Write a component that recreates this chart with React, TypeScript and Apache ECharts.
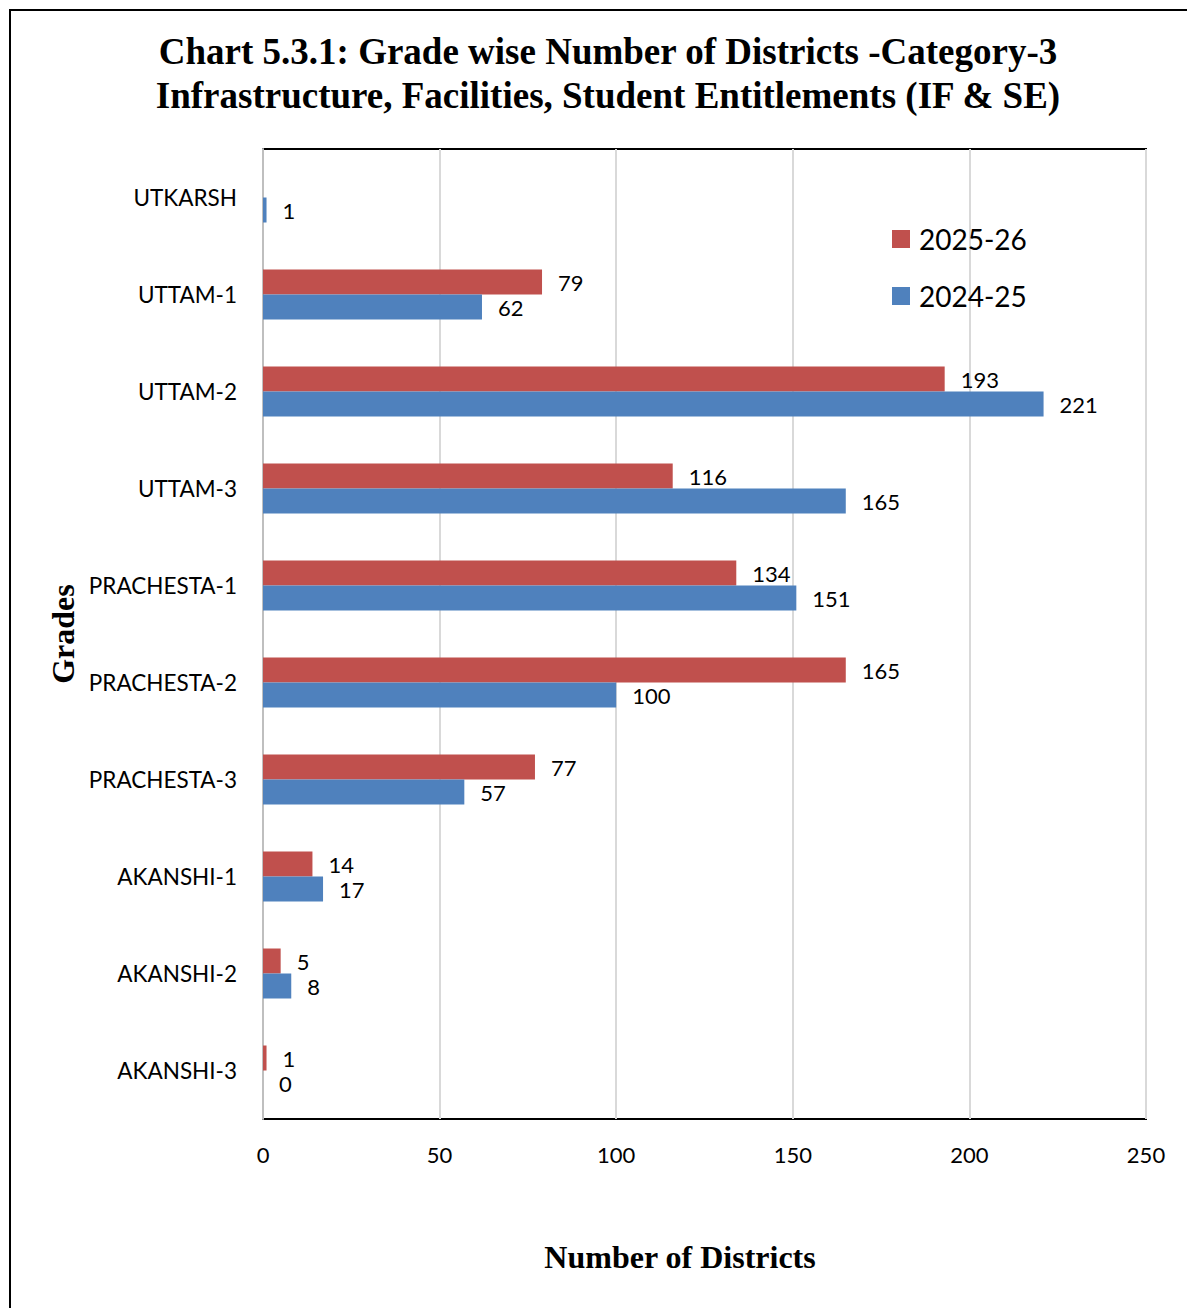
import React, { useEffect, useRef } from "react";
import * as echarts from "echarts";

const categories = [
  "UTKARSH",
  "UTTAM-1",
  "UTTAM-2",
  "UTTAM-3",
  "PRACHESTA-1",
  "PRACHESTA-2",
  "PRACHESTA-3",
  "AKANSHI-1",
  "AKANSHI-2",
  "AKANSHI-3",
];
const values2025: (number | null)[] = [null, 79, 193, 116, 134, 165, 77, 14, 5, 1];
const values2024: (number | null)[] = [1, 62, 221, 165, 151, 100, 57, 17, 8, 0];
const seriesNames = ["2025-26", "2024-25"];
const xTicks = { min: 0, max: 250, interval: 50 };

const labelFont = "Lato, 'Open Sans', sans-serif";
const serif = "'Liberation Serif', 'DejaVu Serif', serif";

export default function App() {
  const ref = useRef<HTMLDivElement>(null);
  useEffect(() => {
    document.body.style.margin = "0";
    const chart = echarts.init(ref.current!, null, { renderer: "svg" });
    chart.setOption({
      animation: false,
      backgroundColor: "#ffffff",
      title: {
        text: "Chart 5.3.1: Grade wise Number of Districts -Category-3\nInfrastructure, Facilities, Student Entitlements (IF & SE)",
        left: 603,
        textAlign: "center",
        top: 24,
        textStyle: {
          fontFamily: serif,
          fontWeight: "bold",
          fontSize: 37,
          lineHeight: 44,
          color: "#000",
        },
      },
      legend: {
        data: seriesNames,
        orient: "vertical",
        left: 887,
        top: 220,
        itemWidth: 18,
        itemHeight: 18,
        itemGap: 29,
        icon: "rect",
        textStyle: {
          fontFamily: labelFont,
          fontSize: 28,
          color: "#000",
          padding: [0, 0, 0, 4],
        },
      },
      grid: {
        left: 263,
        top: 149,
        width: 883,
        height: 970,
        show: true,
        borderColor: "#000",
        borderWidth: 2,
        backgroundColor: "transparent",
      },
      xAxis: {
        type: "value",
        min: xTicks.min,
        max: xTicks.max,
        interval: xTicks.interval,
        axisLine: { show: false },
        axisTick: { show: false },
        splitLine: { show: true, lineStyle: { color: "#d9d9d9", width: 2 } },
        axisLabel: {
          fontFamily: labelFont,
          fontSize: 22,
          color: "#000",
          margin: 24,
        },
      },
      yAxis: {
        type: "category",
        data: categories,
        inverse: true,
        axisLine: { show: true, lineStyle: { color: "#bfbfbf", width: 2 } },
        axisTick: { show: false },
        axisLabel: {
          fontFamily: labelFont,
          fontSize: 22.5,
          color: "#000",
          margin: 26,
        },
      },
      series: [
        {
          name: seriesNames[0],
          type: "bar",
          data: values2025,
          barWidth: 25,
          barGap: "0%",
          itemStyle: { color: "#c0504d" },
          label: {
            show: true,
            position: "right",
            distance: 16,
            fontFamily: labelFont,
            fontSize: 22,
            color: "#000",
          },
        },
        {
          name: seriesNames[1],
          type: "bar",
          data: values2024,
          barWidth: 25,
          barGap: "0%",
          itemStyle: { color: "#4f81bd" },
          label: {
            show: true,
            position: "right",
            distance: 16,
            fontFamily: labelFont,
            fontSize: 22,
            color: "#000",
          },
        },
      ],
      graphic: [
        {
          type: "rect",
          shape: { x: 10, y: 10, width: 1200, height: 1320 },
          style: { fill: "none", stroke: "#000", lineWidth: 2 },
          silent: true,
        },
        {
          type: "text",
          x: 63,
          y: 634,
          rotation: Math.PI / 2,
          style: {
            text: "Grades",
            fontFamily: serif,
            fontWeight: "bold",
            fontSize: 32,
            fill: "#000",
            textAlign: "center",
            textVerticalAlign: "middle",
          },
        },
        {
          type: "text",
          x: 680,
          y: 1257,
          style: {
            text: "Number of Districts",
            fontFamily: serif,
            fontWeight: "bold",
            fontSize: 32,
            fill: "#000",
            textAlign: "center",
            textVerticalAlign: "middle",
          },
        },
      ],
    });
    return () => chart.dispose();
  }, []);
  return (
    <div
      ref={ref}
      style={{ position: "absolute", left: 0, top: 0, width: 1187, height: 1308 }}
    />
  );
}
